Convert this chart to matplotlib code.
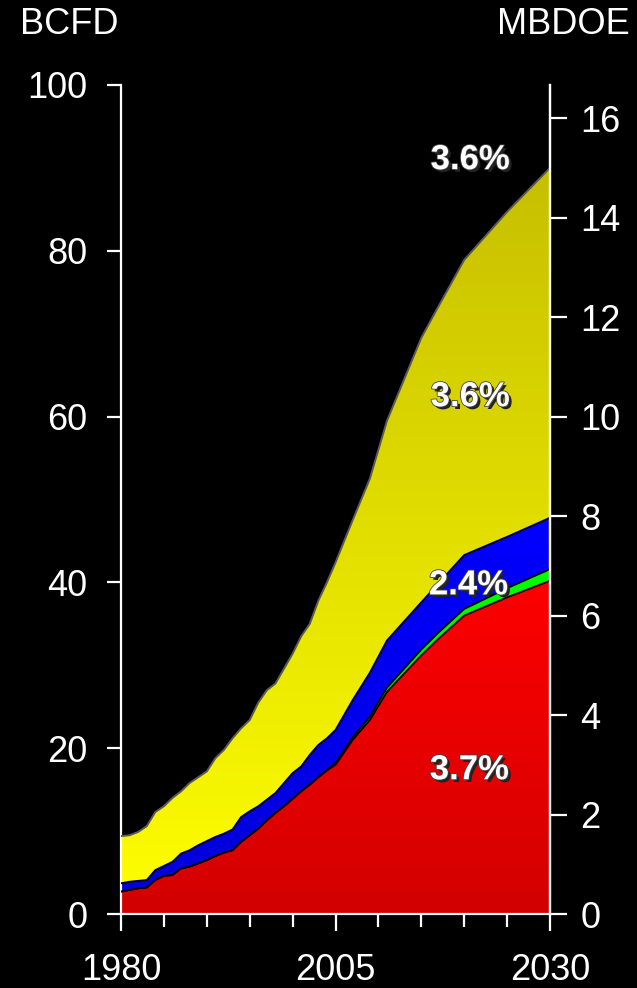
#!/usr/bin/env python3

import numpy as np
from matplotlib import pyplot as plt
from matplotlib import patheffects as pe
from matplotlib.patches import PathPatch
from matplotlib.colors import LinearSegmentedColormap

plt.rcParams['font.family'] = ['Liberation Sans', 'DejaVu Sans']

# years (annual history, sparser projection)
years = [1980, 1981, 1982, 1983, 1984, 1985, 1986, 1987, 1988, 1989,
         1990, 1991, 1992, 1993, 1994, 1995, 1996, 1997, 1998, 1999,
         2000, 2001, 2002, 2003, 2004, 2005, 2007, 2009, 2011, 2013,
         2015, 2017, 2020, 2025, 2030]

# layer thickness, BCFD
red = [2.7, 2.9, 3.1, 3.2, 4.1, 4.6, 4.7, 5.5, 5.7, 6.1,
       6.5, 7.0, 7.4, 7.7, 8.7, 9.5, 10.3, 11.3, 12.2, 13.0,
       13.9, 14.8, 15.6, 16.5, 17.3, 18.0, 21.0, 23.4, 26.8, 29.0,
       31.2, 33.2, 36.0, 38.2, 40.2]
green = [0, 0, 0, 0, 0, 0, 0, 0, 0, 0,
         0, 0, 0, 0, 0, 0, 0, 0, 0, 0,
         0, 0, 0, 0, 0.1, 0.2, 0.3, 0.4, 0.5, 0.6,
         0.7, 0.75, 0.8, 1.1, 1.4]
blue = [1.0, 1.0, 0.9, 0.9, 1.2, 1.2, 1.6, 1.8, 2.0, 2.2,
        2.3, 2.3, 2.3, 2.5, 3.0, 2.9, 2.7, 2.5, 2.4, 2.8,
        3.1, 3.0, 3.6, 3.9, 3.8, 4.0, 4.5, 5.3, 5.7, 5.7,
        5.7, 5.95, 6.5, 6.2, 6.2]
yellow = [5.7, 5.6, 5.9, 6.5, 7.0, 7.2, 7.7, 7.5, 8.1, 8.2,
          8.4, 9.5, 10.1, 11.0, 10.7, 11.0, 12.5, 13.2, 13.2, 13.8,
          14.4, 15.7, 15.8, 17.4, 18.8, 20.2, 21.7, 23.4, 26.5, 29.2,
          31.9, 33.4, 35.6, 39.2, 42.2]

growth_labels = ["3.6%", "3.6%", "2.4%", "3.7%"]
growth_pos = [(2020.7, 91), (2020.7, 62.4), (2020.5, 39.7), (2020.6, 17.4)]

BCFD_PER_MBDOE = 6.0


def gradient_fill(ax, x, y0, y1, c_low, c_high, v_low, v_high):
	poly = ax.fill_between(x, y0, y1, facecolor='none', edgecolor='none')
	patch = PathPatch(poly.get_paths()[0], transform=ax.transData,
					  facecolor='none', edgecolor='none')
	ax.add_patch(patch)
	cmap = LinearSegmentedColormap.from_list('g', [c_low, c_high])
	grad = np.linspace(0, 1, 256).reshape(-1, 1)
	im = ax.imshow(grad, cmap=cmap, origin='lower', aspect='auto',
				   extent=[x[0], x[-1], v_low, v_high], zorder=1)
	im.set_clip_path(patch)


def plot_chart():
	fig = plt.figure(figsize=(6.37, 9.88), dpi=100, facecolor='black')
	ax = fig.add_axes([121 / 637, 1 - 914 / 988, 429 / 637, 829 / 988])
	ax.set_facecolor('black')

	x = np.array(years, dtype=float)
	r = np.array(red)
	g = r + np.array(green)
	b = g + np.array(blue)
	t = b + np.array(yellow)
	zero = np.zeros_like(x)

	gradient_fill(ax, x, zero, r, '#d20000', '#ff0000', 0, 42)
	gradient_fill(ax, x, r, g, '#00c800', '#00ff00', 0, 42)
	gradient_fill(ax, x, g, b, '#0000d8', '#0000ff', 0, 48)
	gradient_fill(ax, x, b, t, '#ffff00', '#c0b800', 0, 100)

	for edge in (r, g, b):
		ax.plot(x, edge, color='black', lw=1.3, zorder=3)
	ax.plot(x, t, color='#5a5a5a', lw=1.4, zorder=3)

	ax.set_xlim(1980, 2030)
	ax.set_ylim(0, 100)

	for (px, py), lab in zip(growth_pos, growth_labels):
		ax.text(px, py, lab, color='white', fontsize=25, fontweight='bold',
				ha='center', va='center', zorder=5,
				path_effects=[pe.SimplePatchShadow(offset=(2, -2), shadow_rgbFace='#222222', alpha=1),
							  pe.Stroke(linewidth=1.2, foreground='#444444'),
							  pe.Normal()])

	ax.spines['top'].set_visible(False)
	for s in ('left', 'right', 'bottom'):
		ax.spines[s].set_color('white')
		ax.spines[s].set_linewidth(1.6)

	ax.set_yticks(range(0, 101, 20))
	ax.tick_params(axis='y', colors='white', direction='out', length=10, width=1.6,
				   labelsize=26, pad=14)
	ax.set_xticks([1980, 2005, 2030])
	ax.set_xticks(range(1980, 2031, 5), minor=True)
	ax.tick_params(axis='x', which='major', colors='white', direction='out', length=12,
				   width=1.6, labelsize=26, pad=16)
	ax.tick_params(axis='x', which='minor', colors='white', direction='out', length=9,
				   width=1.6)

	ax2 = ax.twinx()
	ax2.set_ylim(0, 100 / BCFD_PER_MBDOE)
	ax2.set_yticks(range(0, 17, 2))
	for s in ('top', 'left', 'bottom'):
		ax2.spines[s].set_visible(False)
	ax2.spines['right'].set_color('white')
	ax2.spines['right'].set_linewidth(1.6)
	ax2.tick_params(axis='y', colors='white', direction='out', length=12, width=1.6,
					labelsize=26, pad=10)

	fig.text(20 / 637, 1 - 24 / 988, "BCFD", color='white', fontsize=26,
			 ha='left', va='center')
	fig.text(630 / 637, 1 - 24 / 988, "MBDOE", color='white', fontsize=26,
			 ha='right', va='center')

	plt.savefig("out.png", dpi=100, facecolor='black')
	plt.close()


if __name__ == "__main__":
	plot_chart()
